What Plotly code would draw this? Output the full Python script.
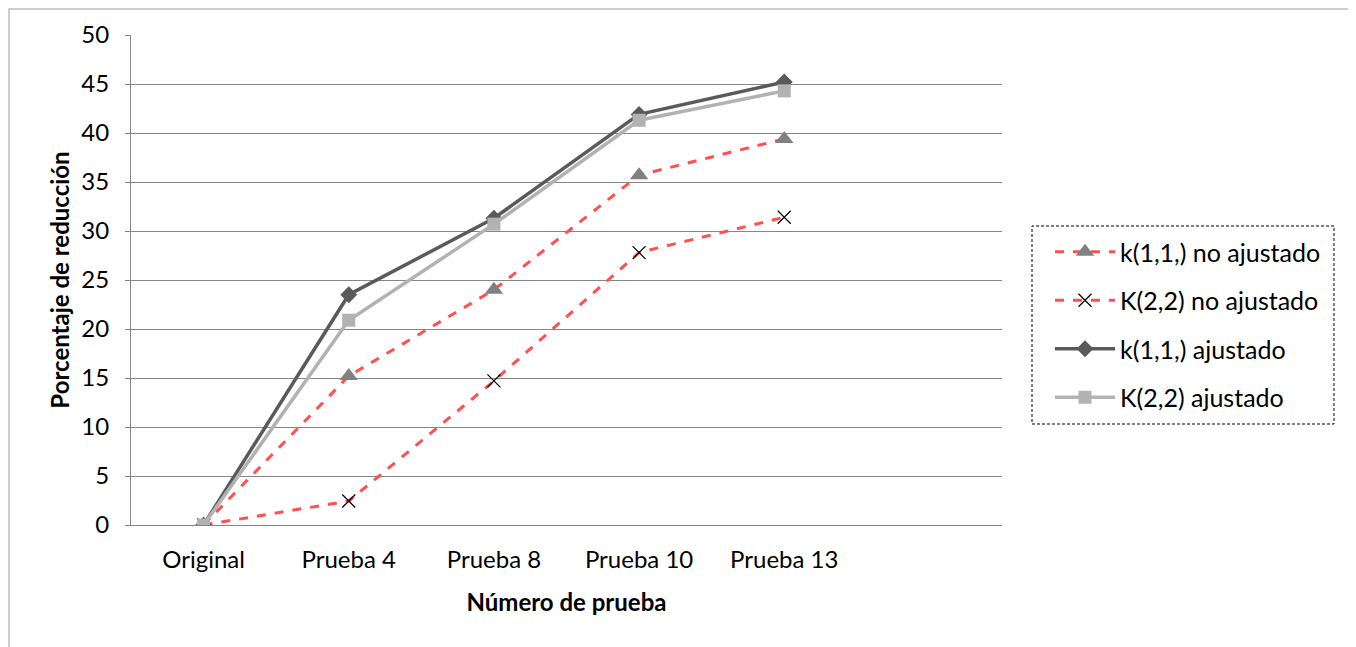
import plotly.graph_objects as go

categories = ["Original", "Prueba 4", "Prueba 8", "Prueba 10", "Prueba 13"]
k11_no_ajustado = [0, 15.2, 24.0, 35.7, 39.4]
k22_no_ajustado = [0, 2.45, 14.7, 27.8, 31.4]
k11_ajustado = [0, 23.5, 31.3, 41.9, 45.2]
k22_ajustado = [0, 20.9, 30.7, 41.3, 44.3]
y_ticks = [0, 5, 10, 15, 20, 25, 30, 35, 40, 45, 50]

xpos = list(range(len(categories)))
FONT = "Lato"
FS = 24
OFF = 8  # page body margin

fig = go.Figure()
fig.add_trace(go.Scatter(
    x=xpos, y=k11_no_ajustado, name="k(1,1,) no ajustado", mode="lines+markers",
    line=dict(color="#FF4F4F", width=3, dash="dash"),
    marker=dict(symbol="triangle-up", size=16, color="#808080"),
    legendgroup="a"))
fig.add_trace(go.Scatter(
    x=xpos, y=k22_no_ajustado, name="K(2,2) no ajustado", mode="lines+markers",
    line=dict(color="#FF4F4F", width=3, dash="dash"),
    marker=dict(symbol="x-thin-open", size=13, color="#000000",
                line=dict(color="#000000", width=1.2)),
    legendgroup="b"))
fig.add_trace(go.Scatter(
    x=xpos, y=k11_ajustado, name="k(1,1,) ajustado", mode="lines+markers",
    line=dict(color="#5A5A5A", width=3.5),
    marker=dict(symbol="diamond", size=13, color="#5A5A5A"),
    legendgroup="c"))
fig.add_trace(go.Scatter(
    x=xpos, y=k22_ajustado, name="K(2,2) ajustado", mode="lines+markers",
    line=dict(color="#B2B2B2", width=3.5),
    marker=dict(symbol="square", size=13, color="#B2B2B2"),
    legendgroup="d"))

W, H = 1356, 647
L = 131 - OFF
T = 35 - OFF
R = W - (1002 - OFF)
B = H - (525 - OFF)
pw, ph = W - L - R, H - T - B

def px(x):
    return (x - OFF - L) / pw

def py(y):
    return (H - B - (y - OFF)) / ph

shapes = [
    # outer chart border (drawn at the canvas edge on the top/left)
    dict(type="rect", xref="paper", yref="paper", x0=px(OFF + 1), x1=px(1349),
         y0=py(670), y1=py(OFF + 1), line=dict(color="#BFBFBF", width=1.5), layer="below"),
    dict(type="rect", xref="paper", yref="paper", x0=px(1032), x1=px(1334),
         y0=py(424), y1=py(226), line=dict(color="#000000", width=1, dash="3px,2px")),
]

fig.update_layout(
    width=W, height=H,
    margin=dict(l=L, r=R, t=T, b=B),
    paper_bgcolor="white", plot_bgcolor="white",
    font=dict(family=FONT, size=FS, color="#000000"),
    showlegend=True,
    legend=dict(x=px(1050), y=py(229), xanchor="left", yanchor="top",
                font=dict(family=FONT, size=25, color="#000000"),
                tracegroupgap=13, bgcolor="rgba(0,0,0,0)", itemwidth=60),
    shapes=shapes,
    xaxis=dict(
        range=[-0.5, 5.5], tickmode="array", tickvals=xpos, ticktext=categories,
        showgrid=False, zeroline=False, showline=True, linecolor="#868686", linewidth=1,
        ticks="", ticklabelstandoff=13,
        tickfont=dict(family=FONT, size=FS),
        title=dict(text="<b>Número de prueba</b>", font=dict(family=FONT, size=FS), standoff=22)),
    yaxis=dict(
        range=[0, 50], tickmode="array", tickvals=y_ticks,
        showgrid=True, gridcolor="#868686", gridwidth=1, zeroline=False,
        showline=True, linecolor="#868686", linewidth=1,
        ticks="outside", ticklen=5, tickcolor="#868686", ticklabelstandoff=11,
        tickfont=dict(family=FONT, size=FS),
        title=dict(text="<b>Porcentaje de reducción</b>", font=dict(family=FONT, size=FS), standoff=4)),
)

fig.write_html("out.html")
